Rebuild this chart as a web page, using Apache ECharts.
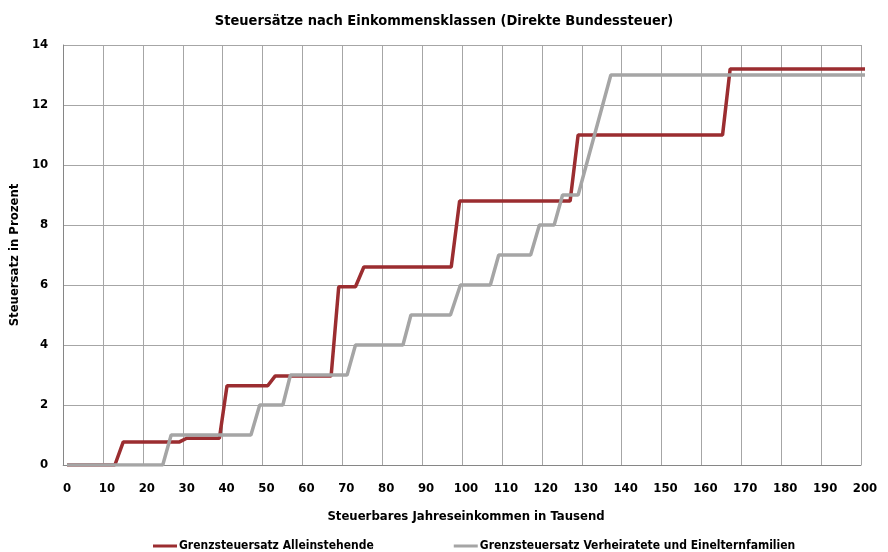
<!DOCTYPE html>
<html>
<head>
<meta charset="utf-8">
<script src="https://cdn.jsdelivr.net/npm/echarts@6/dist/echarts.min.js"></script>
<style>
  html, body { margin: 0; padding: 0; background: #fff; }
  #main { width: 888px; height: 552px; }
</style>
</head>
<body>
<div id="main"></div>
<script>
// Grenzsteuersatz, Direkte Bundesteuer
const incomeSingle = [0, 12.0, 14.1, 28.2, 30.0, 38.2, 40.1, 50.3, 52.2, 66.2, 68.1, 72.3, 74.4, 96.3, 98.4, 126.1, 128.1, 164.3, 166.2, 200]
const rateSingle = [0, 0, 0.77, 0.77, 0.89, 0.89, 2.64, 2.64, 2.97, 2.97, 5.94, 5.94, 6.6, 6.6, 8.8, 8.8, 11.0, 11.0, 13.2, 13.2]
const incomeMarried = [0, 24.0, 26.1, 46.1, 48.3, 54.1, 56.0, 70.2, 72.3, 84.2, 86.2, 96.1, 98.6, 106.1, 108.2, 116.2, 118.4, 122.1, 124.2, 128.1, 136.3, 200]
const rateMarried = [0, 0, 1, 1, 2, 2, 3, 3, 4, 4, 5, 5, 6, 6, 7, 7, 8, 8, 9, 9, 13, 13]
const seriesNames = ['Grenzsteuersatz Alleinstehende', 'Grenzsteuersatz Verheiratete und Einelternfamilien']

const FONT = '"Liberation Sans Narrow", "DejaVu Sans Condensed", "Liberation Sans", sans-serif'
const GRID_COLOR = '#a6a6a6'
const AXIS_COLOR = '#868686'

const chart = echarts.init(document.getElementById('main'), null, { renderer: 'canvas' })

const zip = (xs, ys) => xs.map((x, i) => [x, ys[i]])

const option = {
  animation: false,
  textStyle: { fontFamily: FONT },
  title: {
    text: 'Steuersätze nach Einkommensklassen (Direkte Bundessteuer)',
    left: 'center',
    top: 9,
    textStyle: { fontFamily: FONT, fontSize: 14.5, fontWeight: 'bold', color: '#000' }
  },
  legend: {
    top: 535,
    left: 148,
    itemGap: 80,
    itemWidth: 24,
    itemHeight: 3,
    icon: 'rect',
    textStyle: { fontFamily: FONT, fontSize: 12, fontWeight: 'bold', color: '#000', padding: [0, 0, 0, -3] },
    data: seriesNames
  },
  grid: [
    // frame + grid lines
    { left: 63, right: 27, top: 45, bottom: 87 },
    // data area (shifted like the original)
    { left: 67, right: 23, top: 45, bottom: 87 }
  ],
  xAxis: [{
    type: 'value',
    gridIndex: 0,
    min: 0,
    max: 200,
    interval: 10,
    axisLine: { show: true, lineStyle: { color: AXIS_COLOR, width: 1 } },
    axisTick: { show: false },
    axisLabel: { show: false },
    splitLine: { show: true, lineStyle: { color: GRID_COLOR, width: 1 } }
  }, {
    type: 'value',
    gridIndex: 1,
    min: 0,
    max: 200,
    interval: 10,
    name: 'Steuerbares Jahreseinkommen in Tausend',
    nameLocation: 'middle',
    nameGap: 45,
    nameTextStyle: { fontFamily: FONT, fontSize: 13, fontWeight: 'bold', color: '#000' },
    axisLine: { show: false },
    axisTick: { show: false },
    splitLine: { show: false },
    axisLabel: { margin: 17, fontFamily: FONT, fontSize: 13, fontWeight: 'bold', color: '#000' }
  }],
  yAxis: [{
    type: 'value',
    gridIndex: 0,
    min: 0,
    max: 14,
    interval: 2,
    name: 'Steuersatz in Prozent',
    nameLocation: 'middle',
    nameGap: 37,
    nameTextStyle: { fontFamily: FONT, fontSize: 13, fontWeight: 'bold', color: '#000' },
    axisLine: { show: true, lineStyle: { color: AXIS_COLOR, width: 1 } },
    axisTick: { show: false },
    axisLabel: { margin: 15, fontFamily: FONT, fontSize: 13, fontWeight: 'bold', color: '#000' },
    splitLine: { show: true, lineStyle: { color: GRID_COLOR, width: 1 } }
  }, {
    type: 'value',
    gridIndex: 1,
    min: 0,
    max: 14,
    show: false,
    splitLine: { show: false }
  }],
  series: [
    {
      name: seriesNames[0],
      type: 'line',
      xAxisIndex: 1,
      yAxisIndex: 1,
      showSymbol: false,
      symbol: 'none',
      color: '#9b2d30',
      lineStyle: { width: 3.5, color: '#9b2d30' },
      data: zip(incomeSingle, rateSingle)
    },
    {
      name: seriesNames[1],
      type: 'line',
      xAxisIndex: 1,
      yAxisIndex: 1,
      showSymbol: false,
      symbol: 'none',
      color: '#a5a5a5',
      lineStyle: { width: 3.5, color: '#a5a5a5' },
      data: zip(incomeMarried, rateMarried)
    }
  ]
}

chart.setOption(option)
</script>
</body>
</html>
